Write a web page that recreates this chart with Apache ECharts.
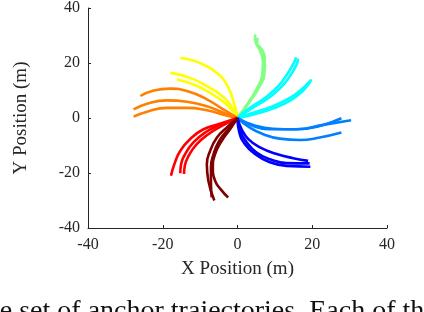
<!DOCTYPE html>
<html>
<head>
<meta charset="utf-8">
<script src="https://cdn.jsdelivr.net/npm/echarts@6/dist/echarts.min.js"></script>
<style>html,body{margin:0;padding:0;background:#fff;}#c{width:424px;height:312px;}</style>
</head>
<body>
<div id="c"></div>
<script>
var xTicks = [-40, -20, 0, 20, 40];
var yTicks = [-40, -20, 0, 20, 40];

var yellow1 = [[0,0],[-1.1,6.2],[-2.9,12.2],[-5.5,16.4],[-9.1,19.4],[-12.7,21.2],[-15.3,21.8]];
var yellow2 = [[0,0],[-2,5],[-4.7,8.6],[-8.2,11.6],[-12.7,14.6],[-18,16.4]];
var yellow3 = [[0,0],[-2,3.7],[-4.7,6.8],[-8.2,9.8],[-11.8,12.2],[-16.2,14]];

var orange1 = [[0,0],[-3.8,3.1],[-8.2,6.8],[-13.5,9.8],[-18,10.7],[-22.4,10],[-26,8]];
var orange2 = [[0,0],[-3.8,1.9],[-8.2,4.3],[-13.5,5.9],[-18.9,6.4],[-24.2,5.2],[-27.8,3.1]];
var orange3 = [[0,0],[-3.8,1.2],[-8.2,2.8],[-13.5,3.7],[-18.9,3.7],[-24.2,2.3],[-27.8,0.5]];

var red1 = [[0,0],[-4.7,-2.1],[-9.1,-4.1],[-12.7,-7.7],[-15.3,-11.9],[-16.9,-16.8],[-17.8,-21]];
var red2 = [[0,0],[-4.7,-2.5],[-8.7,-5.3],[-11.8,-8.9],[-14,-13.1],[-15.1,-16.8],[-15.3,-20.1]];
var red3 = [[0,0],[-4.2,-2.9],[-7.8,-5.9],[-10.9,-9.5],[-13.1,-13.8],[-14.1,-17.4],[-14.3,-20.4]];

var darkred1 = [[0,0],[-2.9,-3.5],[-5.5,-7.1],[-7.3,-11.9],[-8.2,-16.8],[-7.8,-22.8],[-6.2,-30]];
var darkred2 = [[0,0],[-2.5,-4.1],[-4.9,-8.3],[-6.4,-13.1],[-7.1,-18],[-7.1,-23.4],[-6.9,-28.9]];
var darkred3 = [[0,0],[-2,-4.1],[-4.2,-8.3],[-6,-13.1],[-6.6,-18],[-6,-22.8],[-4.2,-26.4],[-2.5,-28.9]];

var blue1 = [[0,0],[1.1,-4.1],[2.9,-7.7],[6,-10.7],[10.5,-13.1],[14.9,-14.6],[18.9,-15.6]];
var blue2 = [[0,0],[0.7,-4.7],[2.5,-8.9],[5.1,-12.6],[8.7,-15],[13.1,-16.4],[19.3,-16.5]];
var blue3 = [[0,0],[0.5,-5.3],[2,-9.5],[4.7,-13.1],[8.2,-15.8],[13.1,-17.4],[19.5,-17.7]];

var azure1 = [[0,0],[4.2,-2.5],[9.5,-3.9],[15.8,-4.1],[22,-2.9],[27.8,-0.1]];
var azure2 = [[0,0],[4.2,-2.9],[9.5,-4.1],[15.8,-4.1],[22.9,-2.5],[30.4,-0.8]];
var azure3 = [[0,0],[3.3,-3.5],[6.9,-5.9],[11.3,-7.5],[16.7,-8],[22,-7.1],[27.8,-5.3]];

var cyan1 = [[0,0],[3.3,3.7],[7.3,7.3],[10.9,11.6],[13.5,16.4],[15.3,20.6],[15.6,22.1]];
var cyan2 = [[0,0],[3.8,3.5],[7.8,6.8],[11.3,10.7],[14,15.2],[15.8,19.4],[16.2,21.6]];
var cyan3 = [[0,0],[4.2,1.9],[9.5,4.3],[14,7.3],[17.1,10.4],[19.8,14]];
var cyan4 = [[0,0],[4.6,1.4],[9.8,3.6],[14.4,6.6],[17.5,9.9],[19.6,13.4]];

var green1 = [[0,0],[3.3,6.2],[5.5,11],[6.9,15.8],[7.1,20.6],[6.2,24.9],[4.9,27.3],[4.7,29.7],[4.9,30.3]];
var green2 = [[0,0],[3.1,6.0],[5.2,10.8],[6.6,15.6],[6.8,20.4],[6.0,24.6],[5.2,27.0],[5.4,29.2]];
var green3 = [[0,0],[3.5,6.4],[5.8,11.2],[7.2,16.0],[7.3,20.8],[6.5,25.0],[5.0,26.8]];

var groups = [
  {color:'#ffff00', lines:[yellow1, yellow2, yellow3]},
  {color:'#ff8000', lines:[orange1, orange2, orange3]},
  {color:'#80ff80', lines:[green1, green2, green3]},
  {color:'#00ffff', lines:[cyan1, cyan2, cyan3, cyan4]},
  {color:'#0080ff', lines:[azure1, azure2, azure3]},
  {color:'#0000ff', lines:[blue1, blue2, blue3]},
  {color:'#ff0000', lines:[red1, red2, red3]},
  {color:'#800000', lines:[darkred1, darkred2, darkred3]}
];

var series = [];
groups.forEach(function(g){
  g.lines.forEach(function(l){
    series.push({type:'line', data:l, smooth:0.5, showSymbol:false, symbol:'none',
      lineStyle:{color:g.color, width:2.6}, silent:true, animation:false});
  });
});

var font = 'Liberation Serif';
var chart = echarts.init(document.getElementById('c'), null, {renderer:'canvas'});
chart.setOption({
  animation:false,
  backgroundColor:'#fff',
  grid:{left:88, right:37, top:7, bottom:84, containLabel:false},
  xAxis:{type:'value', min:-40, max:40, interval:20,
    axisLine:{show:true, onZero:false, lineStyle:{color:'#262626', width:1}},
    axisTick:{show:true, inside:true, length:3, lineStyle:{color:'#262626'}},
    splitLine:{show:false},
    axisLabel:{margin:9, color:'#262626', fontFamily:font, fontSize:16,
      formatter:function(v){return xTicks.indexOf(v)>=0 ? String(v) : '';}},
    name:'X Position (m)', nameLocation:'middle', nameGap:32,
    nameTextStyle:{color:'#262626', fontFamily:font, fontSize:19}
  },
  yAxis:{type:'value', min:-40, max:40, interval:20,
    axisLine:{show:true, onZero:false, lineStyle:{color:'#262626', width:1}},
    axisTick:{show:true, inside:true, length:3, lineStyle:{color:'#262626'}},
    splitLine:{show:false},
    axisLabel:{margin:8, color:'#262626', fontFamily:font, fontSize:16,
      formatter:function(v){return yTicks.indexOf(v)>=0 ? String(v) : '';}},
    name:'Y Position (m)', nameLocation:'middle', nameGap:57,
    nameTextStyle:{color:'#262626', fontFamily:font, fontSize:19}
  },
  graphic:[{type:'text', left:-22, top:298, silent:true,
    style:{text:'the set of anchor trajectories. Each of the', fontFamily:font, fontSize:28, fill:'#111'}}],
  series:series
});
</script>
</body>
</html>
